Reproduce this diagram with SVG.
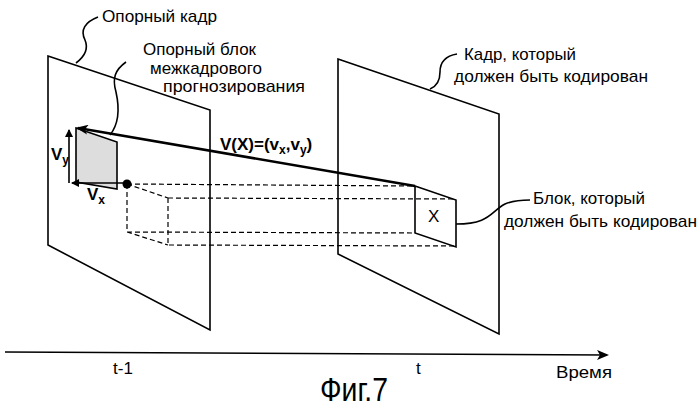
<svg xmlns="http://www.w3.org/2000/svg" width="699" height="411" viewBox="0 0 699 411">
<style>
.l{fill:none;stroke:#000;stroke-width:1.6}
.d{fill:none;stroke:#000;stroke-width:1.2;stroke-dasharray:5,3}
.t{font-family:"Liberation Sans",Arial,sans-serif;font-size:17px;fill:#000}
</style>
<defs>
<marker id="ah" markerWidth="12" markerHeight="10" refX="10" refY="5" orient="auto" markerUnits="userSpaceOnUse"><path d="M0,0 L12,5 L0,10 L3,5 Z" fill="#000"/></marker>
<marker id="as" markerWidth="8" markerHeight="8" refX="7" refY="4" orient="auto" markerUnits="userSpaceOnUse"><path d="M0,0 L8,4 L0,8 Z" fill="#000"/></marker>
</defs>
<rect width="699" height="411" fill="#fff"/>
<g id="ref-frame"><path class="l" d="M48,56 L210,110 L210,330 L48,245 Z" fill="#fff"/></g>
<g id="cur-frame"><path class="l" d="M338,59 L499,114 L499,334 L338,254 Z" fill="#fff"/></g>
<g id="ref-block"><path d="M76,128 L117,142 L117,189 L76,182 Z" fill="#ddd" stroke="#000" stroke-width="1.6"/></g>
<g id="connectors">
<path class="d" d="M127,184 L415,186 M168,198 L456,199 M127,184 L127,232 L415,233 M168,198 L168,245 L456,246 M127,184 L168,198 M127,232 L168,245"/>
<path class="l" d="M127,183 L72,183" marker-end="url(#as)"/>
<path class="l" d="M69,183 L69,130" marker-end="url(#as)"/>
<circle cx="127" cy="184" r="4.5"/>
<path d="M415,186 L78,128" fill="none" stroke="#000" stroke-width="2.6" marker-end="url(#ah)"/>
<path class="l" d="M98,17 C85,22 80,30 85,40 C90,52 80,60 76,63"/>
<path class="l" d="M126,62 C115,70 112,78 116,92 C120,110 118,125 110,135"/>
<path class="l" d="M457,54 C445,56 440,62 440,72 C440,82 435,87 430,89"/>
<path class="l" d="M456,224 C490,224 490,212 505,204 C512,201 520,200 530,200"/>
<path class="l" d="M5,352 L607,355" marker-end="url(#ah)"/>
</g>
<g id="cur-block"><path class="l" d="M415,186 L456,200 L456,247 L415,233 Z" fill="#fff"/><text class="t" x="428" y="222">X</text></g>
<g id="labels">
<text class="t" x="102" y="22" textLength="115" lengthAdjust="spacingAndGlyphs">Опорный кадр</text>
<text class="t" x="143" y="55" textLength="113" lengthAdjust="spacingAndGlyphs">Опорный блок</text>
<text class="t" x="150" y="74" textLength="112" lengthAdjust="spacingAndGlyphs">межкадрового</text>
<text class="t" x="163" y="92" textLength="142" lengthAdjust="spacingAndGlyphs">прогнозирования</text>
<text class="t" x="464" y="60" textLength="112" lengthAdjust="spacingAndGlyphs">Кадр, который</text>
<text class="t" x="454" y="82" textLength="194" lengthAdjust="spacingAndGlyphs">должен быть кодирован</text>
<text class="t" x="533" y="204" textLength="112" lengthAdjust="spacingAndGlyphs">Блок, который</text>
<text class="t" x="504" y="227" textLength="193" lengthAdjust="spacingAndGlyphs">должен быть кодирован</text>
<text class="t" x="220" y="150" font-weight="bold">V(X)=(v<tspan font-size="12" dy="4">x</tspan><tspan dy="-4">,v</tspan><tspan font-size="12" dy="4">y</tspan><tspan dy="-4">)</tspan></text>
<text class="t" x="51" y="160" font-weight="bold">V<tspan font-size="12" dy="4">y</tspan></text>
<text class="t" x="87" y="200" font-weight="bold">V<tspan font-size="12" dy="4">x</tspan></text>
<text class="t" x="113" y="374">t-1</text>
<text class="t" x="416" y="374">t</text>
<text class="t" x="556" y="378" textLength="56" lengthAdjust="spacingAndGlyphs">Время</text>
<text x="320" y="401" font-family="Liberation Sans,Arial,sans-serif" font-size="34" textLength="68" lengthAdjust="spacingAndGlyphs">Фиг.7</text>
</g>
</svg>
